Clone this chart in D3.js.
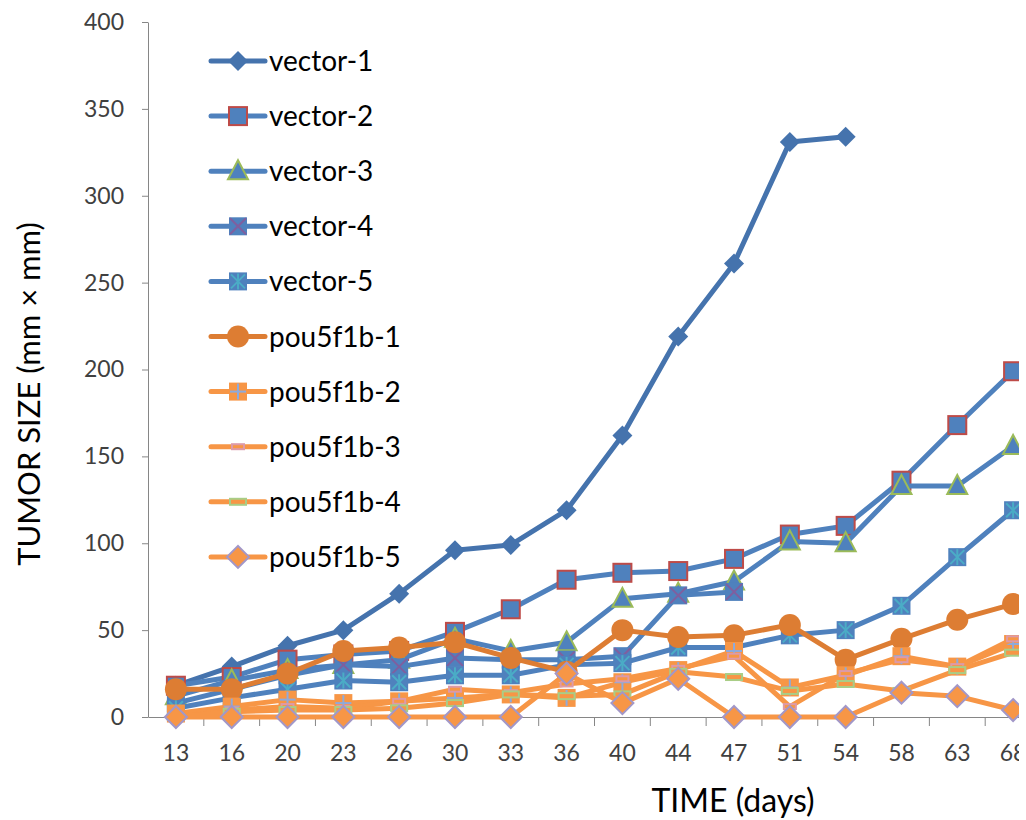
<!DOCTYPE html>
<html>
<head>
<meta charset="utf-8">
<script src="https://cdn.jsdelivr.net/npm/d3@7"></script>
<style>
  body { margin: 0; background: #fff; }
  svg { display: block; font-family: Lato, "Open Sans", sans-serif; }
</style>
</head>
<body>
<div id="chart"></div>
<script>
// days on the x axis
const days = [13, 16, 20, 23, 26, 30, 33, 36, 40, 44, 47, 51, 54, 58, 63, 68];
const yTicks = [0, 50, 100, 150, 200, 250, 300, 350, 400];

// tumor size per series (null = no measurement)
const vector1 = [18, 29, 41, 50, 71, 96, 99, 119, 162, 219, 261, 331, 334, null, null, null];
const vector2 = [18, 23, 33, 36, 38, 49, 62, 79, 83, 84, 91, 105, 110, 136, 168, 199];
const vector3 = [12, 21, 27, 30, 33, 45, 38, 43, 68, 71, 78, 101, 100, 133, 133, 156];
const vector4 = [8, 16, 24, 30, 29, 34, 33, 33, 35, 70, 72, null, null, null, null, null];
const vector5 = [5, 11, 16, 21, 20, 24, 24, 30, 31, 40, 40, 47, 50, 64, 92, 119];
const pou1 = [16, 16, 25, 38, 40, 43, 34, 26, 50, 46, 47, 53, 33, 45, 56, 65];
const pou2 = [2, 6, 10, 8, 9, 11, 13, 11, 20, 27, 38, 17, 24, 35, 29, 42];
const pou3 = [0, 4, 6, 5, 9, 16, 14, 19, 22, 28, 35, 6, 25, 33, 29, 45];
const pou4 = [0, 3, 4, 4, 5, 8, 13, 12, 13, 26, 23, 15, 19, 15, 27, 37];
const pou5 = [0, 0, 0, 0, 0, 0, 0, 25, 8, 22, 0, 0, 0, 14, 12, 4];

const names = ['vector-1', 'vector-2', 'vector-3', 'vector-4', 'vector-5',
  'pou5f1b-1', 'pou5f1b-2', 'pou5f1b-3', 'pou5f1b-4', 'pou5f1b-5'];
const values = [vector1, vector2, vector3, vector4, vector5, pou1, pou2, pou3, pou4, pou5];

const blue = '#4f81bd';
const orange = '#f79646';
const styles = [
  {line: '#4573ad', marker: 'diamond', fill: '#4573ad', stroke: null},
  {line: blue, marker: 'square', fill: blue, stroke: '#be4b48'},
  {line: blue, marker: 'triangle', fill: blue, stroke: '#9bbb59'},
  {line: blue, marker: 'squareX', fill: blue, stroke: '#7f5f9f'},
  {line: blue, marker: 'squareStar', fill: blue, stroke: '#4bacc6'},
  {line: '#dd7d33', marker: 'circle', fill: '#dd7d33', stroke: null},
  {line: orange, marker: 'squarePlus', fill: orange, stroke: '#8eaadb'},
  {line: orange, marker: 'dash', fill: orange, stroke: '#dd9aa8', w: 12, h: 5},
  {line: orange, marker: 'dash', fill: orange, stroke: '#a9cd86', w: 16, h: 6},
  {line: orange, marker: 'diamond', fill: orange, stroke: '#a297c8'}
];

const width = 1019;
const height = 820;
const plot = {left: 148, top: 22, bottom: 717, right: 1041};

const svg = d3.select('#chart')
  .append('svg')
  .attr('width', width)
  .attr('height', height)
  .style('overflow', 'hidden');

const x = d3.scaleBand().domain(days).range([plot.left, plot.right]).padding(0);
const cx = d => x(d) + x.bandwidth() / 2;
const y = d3.scaleLinear().domain([0, 400]).range([plot.bottom, plot.top]);

// y axis
const yAxis = svg.append('g')
  .attr('transform', `translate(${plot.left},0)`)
  .call(d3.axisLeft(y).tickValues(yTicks).tickSize(6).tickSizeOuter(0).tickPadding(18));
yAxis.select('.domain').attr('stroke', '#868686');
yAxis.selectAll('.tick line').attr('stroke', '#868686');
yAxis.selectAll('.tick text')
  .attr('fill', '#404040')
  .style('font-size', '23px')
  .style('font-family', 'Lato, sans-serif');

// x axis: labels under each day, tick marks on the band edges
const xAxis = svg.append('g')
  .attr('transform', `translate(0,${plot.bottom})`)
  .call(d3.axisBottom(x).tickSize(0).tickSizeOuter(0).tickPadding(28));
xAxis.select('.domain').attr('stroke', '#868686');
xAxis.selectAll('.tick text')
  .attr('fill', '#404040')
  .style('font-size', '23px')
  .style('font-family', 'Lato, sans-serif');
xAxis.selectAll('line.edge')
  .data(days.slice(1))
  .enter()
  .append('line')
  .attr('class', 'edge')
  .attr('x1', d => x(d)).attr('x2', d => x(d))
  .attr('y1', 0).attr('y2', 9)
  .attr('stroke', '#868686');

// axis titles
svg.append('text')
  .text('TIME (days)')
  .attr('x', 733)
  .attr('y', 812)
  .attr('text-anchor', 'middle')
  .style('font-size', '32px')
  .attr('fill', '#000');

svg.append('text')
  .text('TUMOR SIZE (mm × mm)')
  .attr('transform', 'translate(40,394) rotate(-90)')
  .attr('text-anchor', 'middle')
  .style('font-size', '31px')
  .attr('fill', '#000');

function drawMarker(g, s) {
  const sw = 2;
  if (s.marker === 'diamond') {
    const r = s.stroke ? 11 : 10;
    g.append('path').attr('d', `M0,${-r}L${r},0L0,${r}L${-r},0Z`)
      .attr('fill', s.fill).attr('stroke', s.stroke || 'none').attr('stroke-width', sw);
  } else if (s.marker === 'circle') {
    g.append('circle').attr('r', 11).attr('fill', s.fill);
  } else if (s.marker === 'triangle') {
    g.append('path').attr('d', 'M0,-11L10,8L-10,8Z')
      .attr('fill', s.fill).attr('stroke', s.stroke).attr('stroke-width', sw);
  } else if (s.marker === 'dash') {
    g.append('rect').attr('x', -s.w / 2).attr('y', -s.h / 2)
      .attr('width', s.w).attr('height', s.h)
      .attr('fill', s.fill).attr('stroke', s.stroke).attr('stroke-width', sw);
  } else {
    // square based markers
    const half = 9;
    g.append('rect').attr('x', -half).attr('y', -half)
      .attr('width', half * 2).attr('height', half * 2)
      .attr('fill', s.fill)
      .attr('stroke', s.marker === 'square' ? s.stroke : 'none')
      .attr('stroke-width', sw);
    let segs = [];
    if (s.marker === 'squareX') segs = [[-8, -8, 8, 8], [-8, 8, 8, -8]];
    if (s.marker === 'squareStar') segs = [[0, -8, 0, 8], [-7, -7, 7, 7], [-7, 7, 7, -7]];
    if (s.marker === 'squarePlus') segs = [[0, -8, 0, 8], [-8, 0, 8, 0]];
    segs.forEach(p => {
      g.append('line').attr('x1', p[0]).attr('y1', p[1]).attr('x2', p[2]).attr('y2', p[3])
        .attr('stroke', s.stroke).attr('stroke-width', sw);
    });
  }
}

const line = d3.line()
  .defined(d => d.v !== null)
  .x(d => cx(d.day))
  .y(d => y(d.v));

// each series: line then markers, in order
values.forEach((vals, i) => {
  const s = styles[i];
  const pts = days.map((d, j) => ({day: d, v: vals[j]}));
  const g = svg.append('g').attr('class', 'series');
  g.append('path')
    .datum(pts)
    .attr('d', line)
    .attr('fill', 'none')
    .attr('stroke', s.line)
    .attr('stroke-width', 5)
    .attr('stroke-linejoin', 'round')
    .attr('stroke-linecap', 'round');
  g.selectAll('g.mk')
    .data(pts.filter(p => p.v !== null))
    .enter()
    .append('g')
    .attr('class', 'mk')
    .attr('transform', p => `translate(${cx(p.day)},${y(p.v)})`)
    .each(function() { drawMarker(d3.select(this), s); });
});

// legend
const legend = svg.append('g').attr('transform', 'translate(211,61)');
names.forEach((name, i) => {
  const s = styles[i];
  const row = legend.append('g').attr('transform', `translate(0,${i * 55.1})`);
  row.append('line')
    .attr('x1', 0).attr('x2', 54)
    .attr('stroke', s.line).attr('stroke-width', 5).attr('stroke-linecap', 'round');
  drawMarker(row.append('g').attr('transform', 'translate(27,0)'), s);
  row.append('text')
    .text(name)
    .attr('x', 58)
    .attr('y', 10)
    .style('font-size', '28px')
    .attr('fill', '#000');
});
</script>
</body>
</html>
